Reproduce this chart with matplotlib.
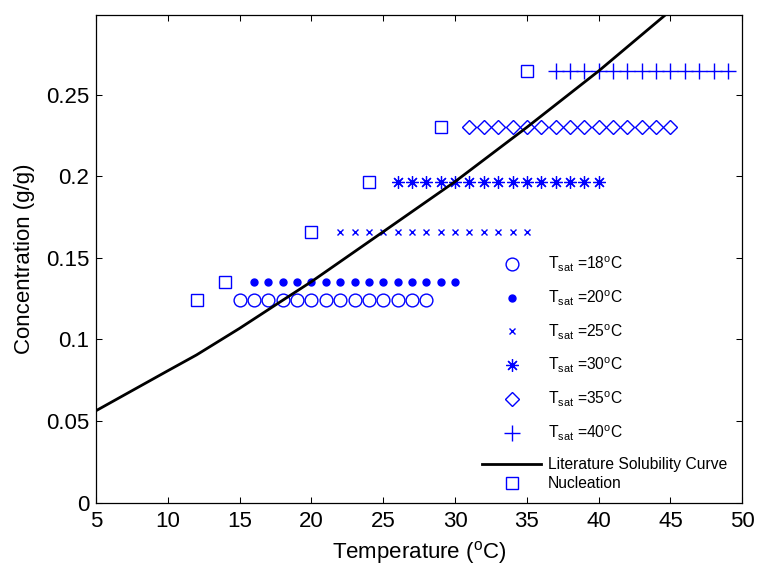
import matplotlib
matplotlib.use("Agg")
import matplotlib.pyplot as plt

plt.rcParams['font.family'] = ['Liberation Sans', 'DejaVu Sans']
plt.rcParams['mathtext.default'] = 'regular'

# Measurement series (temperature range at constant concentration)
t18 = list(range(15, 29)); c18 = 0.124
t20 = list(range(16, 31)); c20 = 0.1354
t25 = list(range(22, 36)); c25 = 0.166
t30 = list(range(26, 41)); c30 = 0.1967
t35 = list(range(31, 46)); c35 = 0.230
t40 = list(range(37, 50)); c40 = 0.2645

# Nucleation points
nuc_t = [12, 14, 20, 24, 29, 35]
nuc_c = [0.124, 0.1354, 0.166, 0.1967, 0.230, 0.2645]

# Literature solubility curve
sol_t = [5, 10, 12, 15, 18, 20, 25, 30, 35, 40, 45]
sol_c = [0.0563, 0.0808, 0.0905, 0.1068, 0.124, 0.1354, 0.166, 0.1967, 0.230, 0.2645, 0.3015]

labels = ['T$_{sat}$ =18$^{o}$C', 'T$_{sat}$ =20$^{o}$C', 'T$_{sat}$ =25$^{o}$C',
          'T$_{sat}$ =30$^{o}$C', 'T$_{sat}$ =35$^{o}$C', 'T$_{sat}$ =40$^{o}$C',
          'Literature Solubility Curve', 'Nucleation']

fig = plt.figure(figsize=(7.58, 5.71), dpi=100)
ax = fig.add_axes([96/758, 1-502.6/571, (742.3-96)/758, (502.6-14.7)/571])

blue = (0, 0, 1)
h1, = ax.plot(t18, [c18]*len(t18), 'o', ls='none', mfc='none', mec=blue, ms=9.2, mew=1.0)
h2, = ax.plot(t20, [c20]*len(t20), 'o', ls='none', mfc=blue, mec=blue, ms=5)
h3, = ax.plot(t25, [c25]*len(t25), 'x', ls='none', color=blue, ms=5, mew=1.0)
h4, = ax.plot(t30, [c30]*len(t30), ls='none', marker=(8, 2, 0), color=blue, ms=9, mew=0.9)
h5, = ax.plot(t35, [c35]*len(t35), 'D', ls='none', mfc='none', mec=blue, ms=7.3, mew=1.0)
h6, = ax.plot(t40, [c40]*len(t40), '+', ls='none', color=blue, ms=11, mew=1.0)
h7, = ax.plot(sol_t, sol_c, '-', color='black', lw=2)
h8, = ax.plot(nuc_t, nuc_c, 's', ls='none', mfc='none', mec=blue, ms=8.5, mew=1.0)

ax.set_xlim(5, 50)
ax.set_ylim(0, 0.299)
ax.set_xticks(range(5, 51, 5))
ax.set_yticks([0, 0.05, 0.1, 0.15, 0.2, 0.25])
ax.set_yticklabels(['0', '0.05', '0.1', '0.15', '0.2', '0.25'])
ax.tick_params(direction='in', top=True, right=True, length=4, width=0.75, labelsize=16)
ax.tick_params(axis='x', pad=6)
ax.tick_params(axis='y', pad=5)
for s in ax.spines.values():
    s.set_linewidth(0.9)

ax.set_xlabel('Temperature ($^{o}$C)', fontsize=16, labelpad=5)
ax.set_ylabel('Concentration (g/g)', fontsize=16, labelpad=8)

common = dict(bbox_transform=fig.transFigure, frameon=False, borderpad=0,
              borderaxespad=0, handlelength=3.8, handletextpad=0.4,
              fontsize=11.25, numpoints=1, loc='upper left')
leg1 = ax.legend([h1, h2, h3, h4, h5, h6, h7], labels[:7],
                 bbox_to_anchor=(482/758, 1-255/571), labelspacing=0.92, **common)
ax.add_artist(leg1)
leg2 = ax.legend([h8], labels[7:], bbox_to_anchor=(482/758, 1-476/571), **common)

fig.savefig('out.png', dpi=100)
